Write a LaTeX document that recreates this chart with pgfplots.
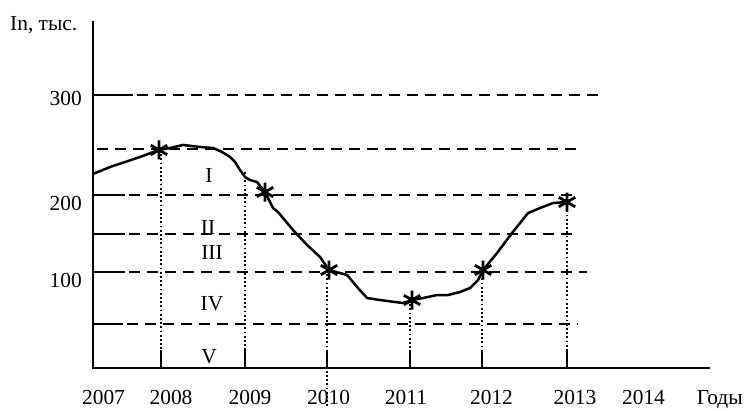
\documentclass[border=0pt]{standalone}
\usepackage{fontspec}
\setmainfont{Liberation Serif}
\usepackage{pgfplots}
\pgfplotsset{compat=1.18}
\begin{document}
\begin{tikzpicture}[font=\fontsize{21.5}{26}\selectfont]
\begin{axis}[
  x=81.2bp, y=0.91bp,
  xmin=2007.163, xmax=2015.0, ymin=0, ymax=381.3,
  axis line style={draw=none},
  major tick length=0pt,
  clip=false,
  xtick={2007.292,2008.123,2009.096,2010.063,2011.017,2012.070,2013.098,2013.942,2014.880},
  xticklabels={2007,2008,2009,2010,2011,2012,2013,2014,Годы},
  xticklabel style={anchor=base, inner sep=0pt, yshift=-36bp},
  ytick={89.0,173.6,289.0},
  yticklabels={100,200,300},
  yticklabel style={anchor=base east, inner sep=0pt, xshift=-11bp},
  solidl/.style={black, line width=2.5bp},
  dashl/.style={black, line width=2.5bp, dash pattern=on 11bp off 7bp},
  dotl/.style={black, line width=1.8bp, dash pattern=on 1.8bp off 2.4bp},
]
% bounding box corners
\coordinate (BL) at (axis cs:2006.017,-46.15);
\coordinate (TR) at (axis cs:2015.204,404.4);
% horizontal levels
\addplot[solidl] coordinates {(2007.163,300)(2007.655,300)};
\addplot[dashl] coordinates {(2007.700,300)(2013.406,300)};
\addplot[dashl] coordinates {(2007.212,240.7)(2013.123,240.7)};
\addplot[solidl] coordinates {(2007.163,190.1)(2007.557,190.1)};
\addplot[dashl] coordinates {(2007.600,190.1)(2013.135,190.1)};
\addplot[solidl] coordinates {(2007.163,147.3)(2007.557,147.3)};
\addplot[dashl] coordinates {(2007.600,147.3)(2013.123,147.3)};
\addplot[solidl] coordinates {(2007.163,105.5)(2007.557,105.5)};
\addplot[dashl] coordinates {(2007.600,105.5)(2013.246,105.5)};
\addplot[solidl] coordinates {(2007.163,48.4)(2007.532,48.4)};
\addplot[dashl] coordinates {(2007.575,48.4)(2013.123,48.4)};
% dotted verticals
\addplot[dotl] coordinates {(2008.001,239.6)(2008.001,19.8)};
\addplot[dotl] coordinates {(2009.034,215.4)(2009.034,19.8)};
\addplot[dotl] coordinates {(2010.044,107.7)(2010.044,-42.9)};
\addplot[dotl] coordinates {(2011.066,74.7)(2011.066,19.8)};
\addplot[dotl] coordinates {(2011.953,107.7)(2011.953,19.8)};
\addplot[dotl] coordinates {(2013.000,182.4)(2013.000,19.8)};
% short solid ticks on the x axis
\addplot[solidl] coordinates {(2008.001,0)(2008.001,19.8)};
\addplot[solidl] coordinates {(2009.034,0)(2009.034,19.8)};
\addplot[solidl] coordinates {(2010.044,0)(2010.044,19.8)};
\addplot[solidl] coordinates {(2011.066,0)(2011.066,19.8)};
\addplot[solidl] coordinates {(2011.953,0)(2011.953,19.8)};
\addplot[solidl] coordinates {(2013.000,0)(2013.000,19.8)};
% axes
\addplot[black, line width=2.5bp] coordinates {(2007.163,381.3)(2007.163,0)(2014.761,0)};
% curve
\addplot[black, line width=2.5bp, line join=round] coordinates {
(2007.163,213.2)(2007.372,220.9)(2007.557,226.4)(2007.741,231.9)(2007.975,239.6)
(2008.111,241.8)(2008.271,245.1)(2008.480,242.9)(2008.640,241.8)(2008.751,237.4)
(2008.850,231.9)(2008.911,226.4)(2008.973,217.6)(2009.034,209.9)(2009.096,206.6)
(2009.182,204.4)(2009.281,193.4)(2009.379,175.8)(2009.441,171.4)(2009.626,151.6)
(2009.798,135.2)(2009.958,122.0)(2010.069,107.7)(2010.291,102.2)(2010.426,87.9)
(2010.537,76.9)(2010.697,74.7)(2010.980,71.4)(2011.091,74.7)(2011.227,76.9)
(2011.399,80.2)(2011.534,80.2)(2011.682,83.5)(2011.805,87.9)(2011.904,96.7)
(2011.966,107.7)(2012.138,126.4)(2012.323,148.4)(2012.520,170.3)(2012.667,175.8)
(2012.828,181.3)(2013.000,182.4)};
% star markers
\addplot[only marks, mark=asterisk, mark size=9.5bp, mark options={black, line width=2.8bp}] coordinates {
(2007.975,239.6)(2009.281,193.4)(2010.069,107.7)(2011.091,74.7)(2011.966,107.7)(2013.000,182.4)};
% zone labels
\node at (axis cs:2008.591,212.1) {I};
\node at (axis cs:2008.579,154.9) {II};
\node at (axis cs:2008.628,126.4) {III};
\node at (axis cs:2008.628,70.3) {IV};
\node at (axis cs:2008.591,12.1) {V};
\node[anchor=base west, inner sep=0pt] at (axis cs:2006.140,371.4) {In, тыс.};
\end{axis}
\pgfresetboundingbox
\path[use as bounding box] (BL) rectangle (TR);
\end{tikzpicture}
\end{document}
